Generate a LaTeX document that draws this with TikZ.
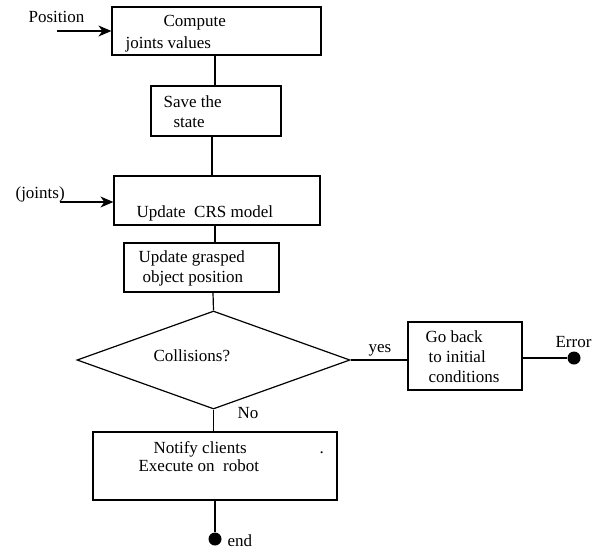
\documentclass[tikz,border=0pt]{standalone}
\usepackage{fontspec}
\setmainfont{Liberation Serif}
\usetikzlibrary{arrows.meta,shapes.geometric}
\begin{document}
\begin{tikzpicture}[x=1pt,y=-1pt,
  line width=1.2pt,
  every node/.style={font=\fontsize{17}{20}\selectfont},
  box/.style={draw,rectangle,inner sep=0pt},
  decision/.style={draw,diamond,inner sep=0pt},
  txt/.style={anchor=base west,inner sep=0pt},
  dot/.style={circle,fill=black,inner sep=0pt,minimum size=13pt},
  arr/.style={-{Stealth[length=13pt,width=11pt,inset=4pt]}}]
\useasboundingbox (0,0) rectangle (600,550);

% process boxes
\node[box,minimum width=209pt,minimum height=48pt] (b1) at (216.5,31) {};
\node[box,minimum width=130pt,minimum height=50pt] (b2) at (216,111) {};
\node[box,minimum width=206pt,minimum height=49pt] (b3) at (217,200.5) {};
\node[box,minimum width=155pt,minimum height=49pt] (b4) at (201.5,267.5) {};
\node[decision,minimum width=273pt,minimum height=98pt] (d1) at (213.5,360) {};
\node[box,minimum width=114pt,minimum height=68pt] (b5) at (465,356) {};
\node[box,minimum width=244pt,minimum height=68pt] (b6) at (215,466) {};
\node[dot] (err) at (574,358) {};
\node[dot] (fin) at (215,539) {};

% inputs
\coordinate (pin) at (57,31);
\coordinate (jin) at (60,202);
\draw[arr] (pin) -- (pin -| b1.west);
\draw[arr] (jin) -- (jin -| b3.west);

% flow connectors
\draw ([xshift=-1.5pt]b1.south) -- ([xshift=-1.5pt]b1.south |- b2.north);
\draw ([xshift=-4pt]b2.south) -- ([xshift=-4pt]b2.south |- b3.north);
\draw ([xshift=-2pt]b3.south) -- ([xshift=-2pt]b3.south |- b4.north);
\draw ([xshift=11.5pt]b4.south) -- (d1.north);
\draw (d1.east) -- (d1.east -| b5.west);
\draw (b5.east |- err) -- (err);
\draw (d1.south) -- (d1.south |- b6.north);
\draw (b6.south) -- (fin);

% texts
\node[txt] (tpos) at (28,22) {Position};
\node[txt] (t1a) at (163,26) {Compute};
\node[txt] (t1b) at (125,48) {joints values};
\node[txt] (t2a) at (163,107) {Save the};
\node[txt] (t2b) at (173,127) {state};
\node[txt] (tjo) at (15,198) {(joints)};
\node[txt] (t3) at (136,217) {Update\ \ CRS model};
\node[txt] (t4a) at (138,262) {Update grasped};
\node[txt] (t4b) at (142,282) {object position};
\node[txt] (td) at (153,361) {Collisions?};
\node[txt] (tyes) at (368,352) {yes};
\node[txt] (t5a) at (425,342) {Go back};
\node[txt] (t5b) at (428,362) {to initial};
\node[txt] (t5c) at (428,382) {conditions};
\node[txt] (terr) at (555,347) {Error};
\node[txt] (tno) at (237,418) {No};
\node[txt] (t6a) at (153,453) {Notify clients};
\node[txt] (t6dot) at (319,453) {.};
\node[txt] (t6b) at (138,471) {Execute on\ \ robot};
\node[txt] (tend) at (227,546) {end};
\end{tikzpicture}
\end{document}
